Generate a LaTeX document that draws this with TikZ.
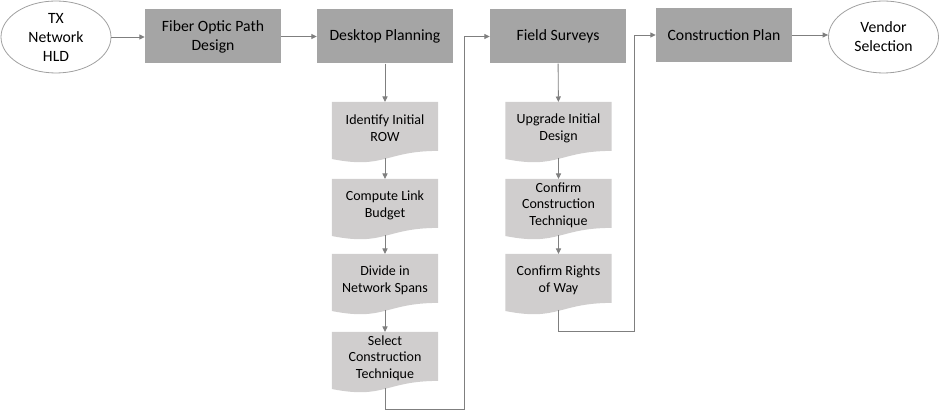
\documentclass[tikz,border=0pt]{standalone}
\usepackage{fontspec}
\setmainfont{Carlito}
\usetikzlibrary{arrows.meta,shapes.geometric,backgrounds}
\definecolor{boxgray}{HTML}{A5A5A5}
\definecolor{docgray}{HTML}{D0CECE}
\definecolor{linegray}{HTML}{7F7F7F}
\definecolor{ellgray}{HTML}{A0A0A0}
\definecolor{txt}{HTML}{000000}
\begin{document}
\begin{tikzpicture}[x=1pt,y=-1pt,
  topbox/.style={rectangle, fill=boxgray, minimum width=136pt, minimum height=54pt, inner sep=0pt, align=center, text=txt, font=\fontsize{15.7}{19}\selectfont},
  oval/.style={ellipse, draw=ellgray, line width=0.8pt, fill=white, minimum width=110pt, minimum height=72pt, inner sep=0pt, align=center, text=txt, font=\fontsize{15.7}{19}\selectfont},
  docbox/.style={rectangle, minimum width=106pt, minimum height=52pt, inner sep=0pt, align=center, anchor=north, text=txt, font=\fontsize{14}{16.6}\selectfont},
  arr/.style={draw=linegray, line width=0.9pt, -{Triangle[length=5.5pt,width=5pt]}}]
\useasboundingbox (0,0) rectangle (940,411);

% top row
\node[oval] (tx) at (56,37) {TX\\Network\\HLD};
\node[topbox] (fo) at (213,36.5) {Fiber Optic Path\\Design};
\node[topbox] (dp) at (385,36.5) {Desktop Planning};
\node[topbox] (fs) at (558,36.5) {Field Surveys};
\node[topbox] (cp) at (724,35) {Construction Plan};
\node[oval] (vs) at (883.5,37) {Vendor\\Selection};

% desktop planning documents
\node[docbox] (d1) at (385,102) {Identify Initial\\ROW};
\node[docbox] (d2) at (385,179) {Compute Link\\Budget};
\node[docbox] (d3) at (385,254) {Divide in\\Network Spans};
\node[docbox] (d4) at (385,332) {Select\\Construction\\Technique};

% field survey documents
\node[docbox] (f1) at (558.5,102) {Upgrade Initial\\Design};
\node[docbox] (f2) at (558.5,179) {Confirm\\Construction\\Technique};
\node[docbox] (f3) at (558.5,254) {Confirm Rights\\of Way};

\begin{scope}[on background layer]
\foreach \n in {d1,d2,d3,d4,f1,f2,f3}
  \fill[docgray] (\n.north west) -- (\n.north east) -- ([yshift=-48.9pt]\n.north east)
    .. controls ([shift={(-53pt,-48.9pt)}]\n.north east) and ([shift={(53pt,-67.5pt)}]\n.north west)
    .. ([yshift=-57pt]\n.north west) -- cycle;
\end{scope}

% joints
\coordinate (j1) at (464,409);
\coordinate (j2) at (634,331);

% connectors
\draw[arr] (tx.east) -- (tx.east -| fo.west);
\draw[arr] (fo) -- (dp);
\draw[arr] (dp) -- (d1);
\draw[arr] ([yshift=-56pt]d1.north) -- (d2.north);
\draw[arr] ([yshift=-56pt]d2.north) -- (d3.north);
\draw[arr] ([yshift=-56pt]d3.north) -- (d4.north);
\draw[arr] ([yshift=-56pt]d4.north) |- (j1) |- (fs.west);
\draw[arr] (fs) -- (f1);
\draw[arr] ([yshift=-56pt]f1.north) -- (f2.north);
\draw[arr] ([yshift=-56pt]f2.north) -- (f3.north);
\draw[arr] ([yshift=-56pt]f3.north) |- (j2) |- (cp.west);
\draw[arr] (cp.east) -- (cp.east -| vs.west);
\end{tikzpicture}
\end{document}
